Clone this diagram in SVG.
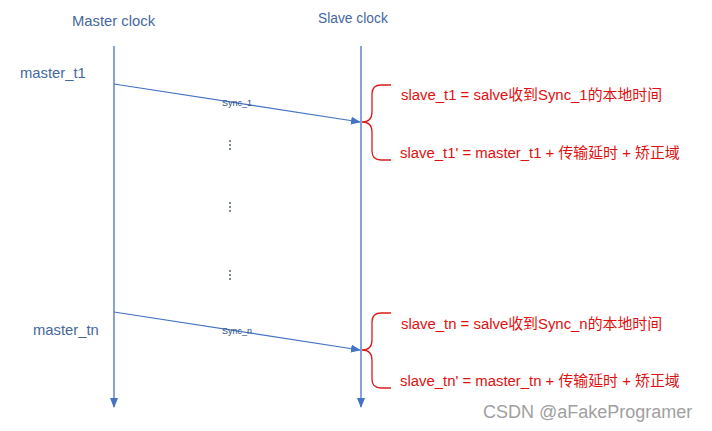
<svg xmlns="http://www.w3.org/2000/svg" width="712" height="431" viewBox="0 0 712 431">
<style>
.lane{stroke:#4472c4;stroke-width:1.3;fill:none}
.msg{stroke:#4472c4;stroke-width:1.2;fill:none}
.brace{stroke:#d81e1e;stroke-width:1.3;fill:none}
.hd{font-family:"Liberation Sans","Noto Sans",sans-serif;font-size:14.8px;fill:#44679e}
.lbl{font-family:"Liberation Sans","Noto Sans",sans-serif;font-size:9px;fill:#2f4f7f}
.red{font-family:"Liberation Sans","Noto Sans CJK SC",sans-serif;font-size:14.9px;fill:#e01010}
.dot{fill:#7f8c9c}
.wm{font-family:"Liberation Sans","Noto Sans",sans-serif;font-size:18px;fill:#a0a0a0}
</style>
<defs>
<marker id="ah" markerWidth="10" markerHeight="8" refX="9" refY="4" orient="auto" markerUnits="userSpaceOnUse">
<path d="M0,0 L10,4 L0,8 Z" fill="#4472c4"/>
</marker>
</defs>
<g id="master">
<text class="hd" x="72" y="26">Master clock</text>
<line class="lane" x1="114" y1="46" x2="114" y2="407" marker-end="url(#ah)"/>
</g>
<g id="slave">
<text class="hd" x="318" y="23" style="font-size:13.8px">Slave clock</text>
<line class="lane" x1="361" y1="46" x2="361" y2="407" marker-end="url(#ah)"/>
</g>
<g id="master_t1"><text class="hd" x="20" y="78">master_t1</text></g>
<g id="master_tn"><text class="hd" x="33" y="335">master_tn</text></g>
<g id="connectors">
<line class="msg" x1="114" y1="84" x2="360" y2="122" marker-end="url(#ah)"/>
<line class="msg" x1="114" y1="312" x2="360" y2="350" marker-end="url(#ah)"/>
</g>
<g id="sync1"><text class="lbl" x="222" y="106">Sync_1</text></g>
<g id="syncn"><text class="lbl" x="222" y="334">Sync_n</text></g>
<g id="dots">
<rect class="dot" x="229" y="140" width="2" height="2"/><rect class="dot" x="229" y="144" width="2" height="2"/><rect class="dot" x="229" y="148" width="2" height="2"/>
<rect class="dot" x="229" y="202" width="2" height="2"/><rect class="dot" x="229" y="206" width="2" height="2"/><rect class="dot" x="229" y="210" width="2" height="2"/>
<rect class="dot" x="229" y="270" width="2" height="2"/><rect class="dot" x="229" y="274" width="2" height="2"/><rect class="dot" x="229" y="278" width="2" height="2"/>
</g>
<g id="brace1">
<path class="brace" d="M391,85 L381,85 Q372,85 372,94 L372,112 Q372,122 362,122 Q372,122 372,132 L372,151 Q372,160 381,160 L391,160"/>
<text class="red" x="401" y="100">slave_t1 = salve收到Sync_1的本地时间</text>
<text class="red" x="400" y="158">slave_t1' = master_t1 + 传输延时 + 矫正域</text>
</g>
<g id="brace2">
<path class="brace" d="M391,313 L381,313 Q372,313 372,322 L372,340 Q372,350 362,350 Q372,350 372,360 L372,379 Q372,388 381,388 L391,388"/>
<text class="red" x="401" y="329">slave_tn = salve收到Sync_n的本地时间</text>
<text class="red" x="400" y="386">slave_tn' = master_tn + 传输延时 + 矫正域</text>
</g>
<g id="watermark"><text class="wm" x="483" y="418">CSDN @aFakeProgramer</text></g>
</svg>
